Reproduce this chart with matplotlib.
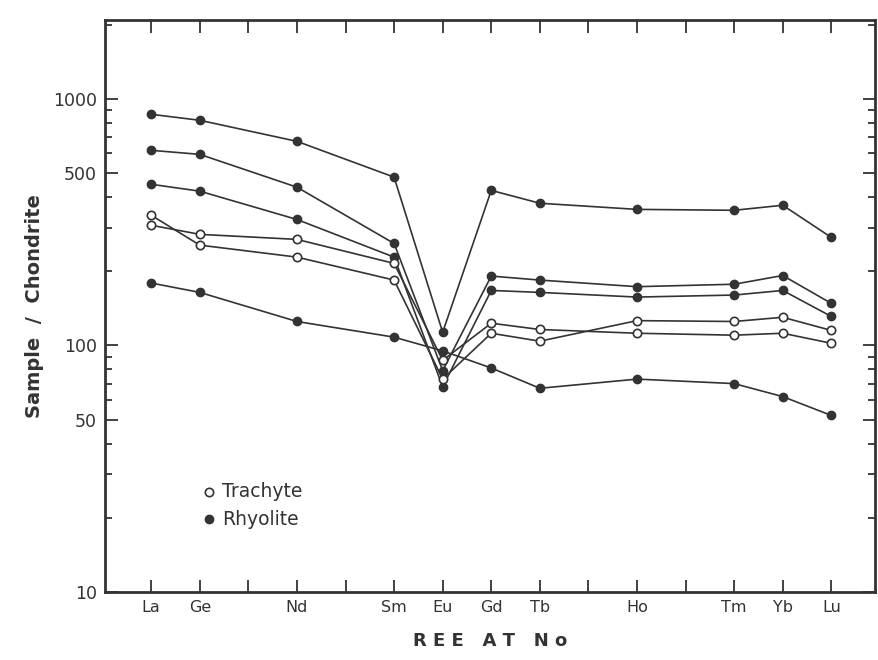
import matplotlib.pyplot as plt
from matplotlib.ticker import LogLocator, NullFormatter, FixedLocator
import numpy as np

# REE atomic numbers and axis labels
atomic_no = [57, 58, 60, 62, 63, 64, 65, 67, 69, 70, 71]
ree_labels = ["La", "Ge", "Nd", "Sm", "Eu", "Gd", "Tb", "Ho", "Tm", "Yb", "Lu"]

# chondrite-normalised values
trachyte_a = [307, 282, 269, 215, 87, 123, 116, 112, 110, 112, 102]
trachyte_b = [337, 255, 228, 184, 73, 112, 104, 126, 125, 130, 115]

rhyolite_a = [865, 818, 672, 481, 113, 425, 377, 356, 353, 370, 274]
rhyolite_b = [618, 595, 438, 259, 79, 191, 184, 173, 177, 192, 148]
rhyolite_c = [450, 422, 324, 228, 68, 167, 164, 157, 160, 167, 131]
rhyolite_d = [179, 164, 125, 108, 95, 81, 67, 73, 70, 62, 52]

ytick_vals = [10, 50, 100, 500, 1000]

ink = "#333333"

fig = plt.figure(figsize=(8.79, 6.6), dpi=100)
ax = fig.add_axes([0.1195, 0.103, 0.876, 0.867])

for s in (rhyolite_a, rhyolite_b, rhyolite_c, rhyolite_d):
    ax.plot(atomic_no, s, "-o", color=ink, lw=1.2, ms=6, mfc=ink, mec=ink)
for s in (trachyte_a, trachyte_b):
    ax.plot(atomic_no, s, "-o", color=ink, lw=1.2, ms=6, mfc="white", mec=ink, mew=1.2)

ax.set_yscale("log")
ax.set_ylim(10, 2090)
ax.set_xlim(56.05, 71.9)

# Ticks: one per atomic number, labels only where data exist
ax.xaxis.set_major_locator(FixedLocator(np.arange(57, 72)))
ax.set_xticks(np.arange(57, 72))
ax.set_xticklabels([ree_labels[atomic_no.index(n)] if n in atomic_no else "" for n in range(57, 72)])
ax.yaxis.set_major_locator(FixedLocator(ytick_vals))
ax.set_yticklabels([str(v) for v in ytick_vals])
ax.yaxis.set_minor_locator(LogLocator(base=10, subs=np.arange(2, 10)))
ax.yaxis.set_minor_formatter(NullFormatter())
ax.tick_params(which="both", direction="in", top=True, right=True, color=ink, width=1.3)
ax.tick_params(which="major", length=9)
ax.tick_params(which="minor", length=5)
ax.tick_params(axis="x", labelsize=11.5, pad=6, colors=ink)
ax.tick_params(axis="y", labelsize=12.5, pad=6, colors=ink)

for sp in ax.spines.values():
    sp.set_linewidth(2)
    sp.set_color(ink)

# Labels
ax.set_xlabel("R E E   A T   N o", fontsize=13, fontweight="bold", color=ink, labelpad=12)
ax.set_ylabel("Sample  /  Chondrite", fontsize=14, fontweight="bold", color=ink, labelpad=6)

# Legend
ax.plot([58.2], [25.5], "o", ms=6, mfc="white", mec=ink, mew=1.2)
ax.text(58.45, 25.5, "Trachyte", fontsize=13.5, va="center", color=ink)
ax.plot([58.2], [19.7], "o", ms=6, mfc=ink, mec=ink)
ax.text(58.45, 19.7, "Rhyolite", fontsize=13.5, va="center", color=ink)

plt.savefig("out.png", dpi=100)
